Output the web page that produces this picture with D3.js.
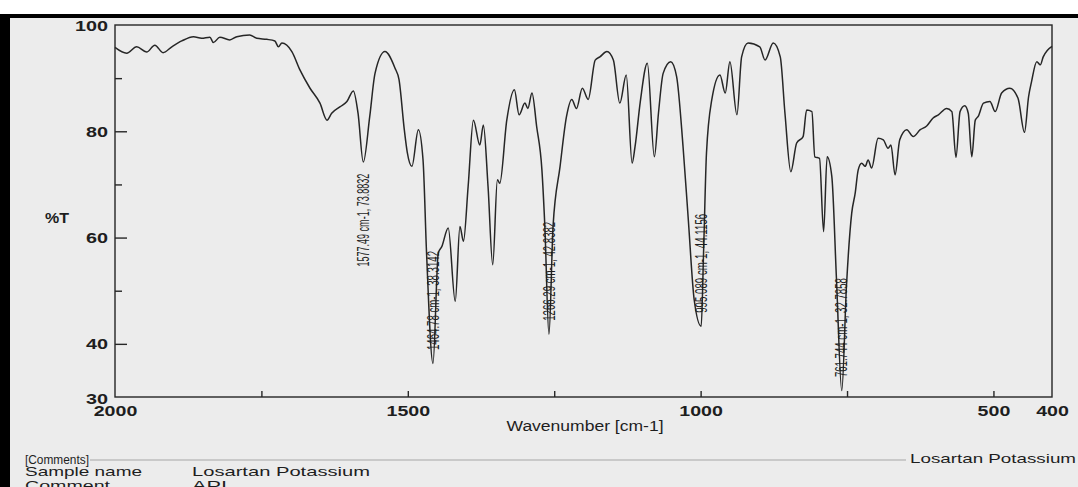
<!DOCTYPE html>
<html>
<head>
<meta charset="utf-8">
<script src="https://cdn.jsdelivr.net/npm/d3@7"></script>
<style>
  html, body { margin: 0; padding: 0; background: #ffffff; }
  svg { display: block; }
  text { font-family: "Liberation Sans", Arial, sans-serif; fill: #1e1e1e; }
</style>
</head>
<body>
<svg id="chart" width="1078" height="487"></svg>
<script>
// ---- data ----
const wavenumber = [2000,1980,1963,1946,1932,1918,1903,1886,1866,1852,1838,1832,1821,1804,1792,1770,1758,1741,1727,1721,1715,1698,1684,1667,1650,1638,1630,1616,1604,1593,1585,1576,1565,1556,1539,1522,1515,1506,1501,1493,1482,1474,1468,1457,1448,1442,1431,1419,1411,1405,1397,1388,1377,1371,1363,1355,1347,1343,1331,1318,1310,1300,1295,1288,1280,1271,1266,1259,1252,1240,1229,1220,1212,1202,1192,1180,1172,1160,1149,1138,1127,1117,1112,1103,1091,1079,1072,1064,1051,1041,1030,1021,1011,999,995,990,981,967,958,950,938,930,919,899,890,876,864,856,846,836,825,819,810,805,797,790,784,776,768,759,751,742,736,731,725,719,714,708,697,688,680,675,668,660,648,637,625,614,603,594,580,571,564,557,549,543,537,531,526,517,506,497,486,472,458,447,440,435,426,420,415,400];
const transmittance = [95.8,94.7,95.9,94.9,96.2,94.8,95.9,97.0,97.8,97.5,97.7,96.7,97.7,97.2,97.8,98.1,97.5,97.3,97.0,95.9,96.6,95.0,91.5,88.1,85.3,82.1,83.4,84.6,85.6,87.6,83.4,74.2,82.8,90.9,95.0,91.9,89.7,80.3,76.1,73.4,80.3,74.6,57.1,36.3,57.1,58.3,61.8,48.0,62.1,59.3,69.6,82.1,77.4,81.2,69.6,54.9,70.9,70.2,82.1,87.8,83.1,85.3,84.3,87.2,80.9,72.7,62.1,41.8,62.1,73.4,82.8,86.0,84.3,88.1,86.0,93.4,94.0,95.0,93.4,85.3,90.6,74.0,77.1,85.6,92.8,75.2,83.4,90.9,93.1,90.3,77.1,63.3,48.3,43.3,57.1,75.9,85.9,90.6,87.2,93.1,83.1,94.0,96.6,95.9,93.4,96.6,94.0,83.4,72.4,77.8,79.0,84.0,83.7,75.2,74.9,61.1,75.2,71.5,52.1,31.2,50.8,64.6,68.4,72.7,74.0,73.4,74.6,73.1,78.7,78.4,76.8,77.4,71.8,78.4,80.3,79.0,80.3,81.0,82.5,83.1,84.3,83.7,75.1,83.7,84.8,83.4,75.2,82.1,82.8,85.3,85.6,83.7,87.2,88.1,86.2,79.8,86.5,89.3,93.1,92.5,94.0,96.0];

// peak annotations (position of the marked dip in the drawn trace)
const peakWn    = [1576, 1457, 1259, 999, 759];
const peakT     = [74.2, 36.3, 41.8, 43.3, 31.2];
const peakText  = ["1577.49 cm-1, 73.8832", "1464.78 cm-1, 38.3142", "1266.29 cm-1, 42.8382", "995.089 cm-1, 44.1156", "761.744 cm-1, 32.7858"];
const peakSide  = ["below", "above", "above", "above", "above"];

// axis ticks
const yLabelTicks = [30, 40, 60, 80, 100];
const yMajorTicks = [40, 60, 80];
const yMinorTicks = [50, 70, 90];
const xMarkTicks  = [1750, 1500, 1250, 1000, 750, 500];
const xLabelTicks = [2000, 1500, 1000, 500, 400];

const xTitle = "Wavenumber [cm-1]";
const yTitle = "%T";
const sampleName = "Losartan Potassium";
const commentText = "API";

// ---- drawing ----
const svg = d3.select("#chart");
const W = 1078, H = 487;

// scanned page look
svg.append("rect").attr("x", 0).attr("y", 0).attr("width", W).attr("height", H).attr("fill", "#ffffff");
svg.append("rect").attr("x", 0).attr("y", 15).attr("width", W).attr("height", H - 15).attr("fill", "#ececec");
svg.append("rect").attr("x", 0).attr("y", 14).attr("width", W).attr("height", 4).attr("fill", "#000");
svg.append("rect").attr("x", 0).attr("y", 14).attr("width", 10).attr("height", H - 14).attr("fill", "#000");

const x = d3.scaleLinear().domain([2000, 400]).range([115, 1052]);
const y = d3.scaleLinear().domain([30, 100]).range([397, 25]);

// frame
const frame = svg.append("g").attr("fill", "none").attr("stroke", "#262626").attr("stroke-width", 1.4);
frame.append("rect")
  .attr("x", x(2000)).attr("y", y(100))
  .attr("width", x(400) - x(2000)).attr("height", y(30) - y(100));

// y axis: labels, major & minor ticks pointing inward
const yAxisMajor = svg.append("g").attr("transform", `translate(${x(2000)},0)`)
  .call(d3.axisLeft(y).tickValues(yLabelTicks).tickSize(0).tickPadding(7).tickFormat(d3.format("d")));
yAxisMajor.select(".domain").remove();
yAxisMajor.selectAll("text")
  .attr("font-size", 14).attr("font-weight", "bold")
  .attr("font-family", "Liberation Sans, Arial, sans-serif")
  .attr("fill", "#1e1e1e")
  .attr("textLength", d => String(d).length * 11)
  .attr("lengthAdjust", "spacingAndGlyphs")
  .attr("dy", d => d === 30 ? "0.44em" : "0.36em");

const yTickMajor = svg.append("g").attr("transform", `translate(${x(2000)},0)`)
  .call(d3.axisLeft(y).tickValues(yMajorTicks).tickSize(-12).tickFormat(""));
yTickMajor.select(".domain").remove();
const yTickMinor = svg.append("g").attr("transform", `translate(${x(2000)},0)`)
  .call(d3.axisLeft(y).tickValues(yMinorTicks).tickSize(-7).tickFormat(""));
yTickMinor.select(".domain").remove();
svg.selectAll(".tick line").attr("stroke", "#262626").attr("stroke-width", 1.4);

// x axis: tick marks pointing inward, and labels
const xTickG = svg.append("g").attr("transform", `translate(0,${y(30)})`)
  .call(d3.axisBottom(x).tickValues(xMarkTicks).tickSize(-6).tickFormat(""));
xTickG.select(".domain").remove();
xTickG.selectAll(".tick line").attr("stroke", "#262626").attr("stroke-width", 1.4);

const xLabG = svg.append("g").attr("transform", `translate(0,${y(30)})`)
  .call(d3.axisBottom(x).tickValues(xLabelTicks).tickSize(0).tickPadding(9.5).tickFormat(d3.format("d")));
xLabG.select(".domain").remove();
xLabG.selectAll("text")
  .attr("font-size", 14).attr("font-weight", "bold")
  .attr("font-family", "Liberation Sans, Arial, sans-serif")
  .attr("fill", "#1e1e1e")
  .attr("textLength", d => String(d).length * 10.9)
  .attr("lengthAdjust", "spacingAndGlyphs");

// axis titles
svg.append("text").attr("x", 585).attr("y", 431)
  .attr("text-anchor", "middle").attr("font-size", 14)
  .attr("textLength", 157).attr("lengthAdjust", "spacingAndGlyphs")
  .text(xTitle);
svg.append("text").attr("x", 45).attr("y", 223)
  .attr("font-size", 14).attr("font-weight", "bold")
  .attr("textLength", 24).attr("lengthAdjust", "spacingAndGlyphs")
  .text(yTitle);

// spectrum trace
const pts = wavenumber.map((w, i) => [w, transmittance[i]]);
const line = d3.line().x(d => x(d[0])).y(d => y(d[1])).curve(d3.curveMonotoneX);
svg.append("path").datum(pts)
  .attr("d", line)
  .attr("fill", "none")
  .attr("stroke", "#262626")
  .attr("stroke-width", 1.5)
  .attr("stroke-linejoin", "round");

// peak annotations (rotated, reading bottom to top)
peakWn.forEach((w, i) => {
  const cx = x(w);
  const tipY = y(peakT[i]);
  const cy = peakSide[i] === "below" ? tipY + 58 : tipY - 63;
  const len = peakSide[i] === "below" ? 93 : 99;
  svg.append("text")
    .attr("transform", `translate(${cx},${cy}) scale(1.3,1) rotate(-90)`)
    .attr("text-anchor", "middle")
    .attr("dy", "0.36em")
    .attr("font-size", 12)
    .attr("font-family", "Liberation Sans Narrow, Liberation Sans, Arial, sans-serif")
    .attr("textLength", len)
    .attr("lengthAdjust", "spacingAndGlyphs")
    .attr("fill", "#222")
    .text(peakText[i]);
});

// comments block
svg.append("line").attr("x1", 90).attr("x2", 906).attr("y1", 460).attr("y2", 460)
  .attr("stroke", "#a9a9a9").attr("stroke-width", 1.6).attr("stroke-opacity", 0.7);

const commentRows = [
  {t: "[Comments]", x: 25, y: 464, len: 64, fs: 12},
  {t: "Sample name", x: 25, y: 476, len: 117, fs: 13},
  {t: "Comment", x: 25, y: 490, len: 85, fs: 13},
  {t: sampleName, x: 192, y: 476, len: 178, fs: 13},
  {t: commentText, x: 192, y: 490, len: 35, fs: 13},
  {t: sampleName, x: 910, y: 463, len: 166, fs: 13.5}
];
svg.selectAll("text.cmt").data(commentRows).join("text")
  .attr("class", "cmt")
  .attr("x", d => d.x).attr("y", d => d.y)
  .attr("font-size", d => d.fs)
  .attr("textLength", d => d.len)
  .attr("lengthAdjust", "spacingAndGlyphs")
  .text(d => d.t);
</script>
</body>
</html>
